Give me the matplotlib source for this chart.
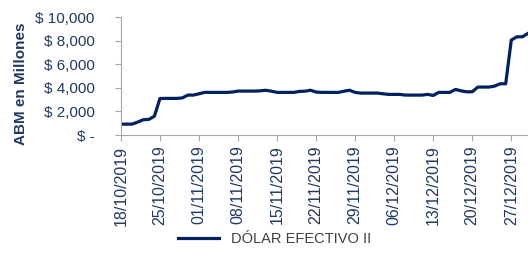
import matplotlib
matplotlib.use("Agg")
import matplotlib.pyplot as plt
import matplotlib.dates as mdates
import numpy as np
import datetime as dt

start = dt.date(2019, 10, 18)
values = [930, 930, 930, 1100, 1300, 1330, 1600, 3100, 3110, 3110,
          3110, 3150, 3390, 3390, 3500, 3620, 3620, 3620, 3620, 3620,
          3650, 3730, 3730, 3730, 3730, 3750, 3800, 3720, 3620, 3620,
          3620, 3620, 3700, 3720, 3800, 3650, 3620, 3620, 3620, 3620,
          3720, 3800, 3620, 3560, 3560, 3560, 3560, 3500, 3450, 3450,
          3450, 3390, 3390, 3390, 3390, 3450, 3360, 3620, 3620, 3620,
          3870, 3750, 3670, 3670, 4070, 4070, 4070, 4150, 4350, 4350,
          8050, 8330, 8330, 8620]
dates = [start + dt.timedelta(days=i) for i in range(len(values))]
tick_dates = [start + dt.timedelta(days=7 * k) for k in range(11)]
y_ticks = [0, 2000, 4000, 6000, 8000, 10000]
y_labels = ["$ -", "$ 2,000", "$ 4,000", "$ 6,000", "$ 8,000", "$ 10,000"]
series_name = "DÓLAR EFECTIVO II"

navy = "#002060"
label_col = "#1F3864"
grey = "#A6A6A6"
plt.rcParams['font.family'] = ['Liberation Sans', 'DejaVu Sans']

fig = plt.figure(figsize=(5.28, 2.67), dpi=100)
ax = fig.add_axes([0.229, 0.494, 0.771, 0.442])
ax.plot(dates, values, color=navy, linewidth=2.3, label=series_name, solid_joinstyle='round')
ax.set_xlim(mdates.date2num(start), mdates.date2num(dates[-1]))
ax.set_ylim(0, 10000)
ax.set_yticks(y_ticks)
ax.set_yticklabels(y_labels, color=label_col, fontsize=11)
ax.set_xticks(tick_dates)
ax.set_xticklabels([d.strftime("%d/%m/%Y") for d in tick_dates], rotation=90,
                   color=label_col, fontsize=11.5)
for s in ["top", "right"]:
    ax.spines[s].set_visible(False)
for s in ["left", "bottom"]:
    ax.spines[s].set_color(grey)
ax.tick_params(axis='both', color=grey, length=4)
ax.tick_params(axis='y', pad=15)
ax.set_ylabel("ABM en Millones", color=label_col, fontsize=11, fontweight='bold')
ax.yaxis.set_label_coords(-0.228, 0.436)
fig.legend(loc='lower center', bbox_to_anchor=(0.52, 0.03), frameon=False,
           fontsize=10.5, labelcolor="#404040", handlelength=2.8)
fig.savefig("out.png", dpi=100)
